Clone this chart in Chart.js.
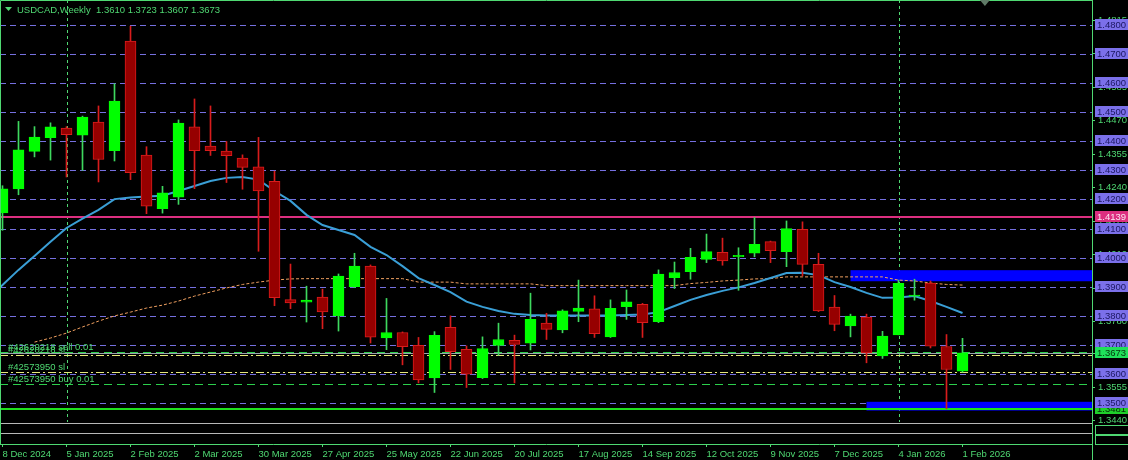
<!DOCTYPE html>
<html>
<head>
<meta charset="utf-8">
<script src="https://cdn.jsdelivr.net/npm/chart.js@4.4.1/dist/chart.umd.min.js"></script>
<style>
  html, body { margin: 0; padding: 0; background: #000; }
  canvas { display: block; }
</style>
</head>
<body>
<canvas id="myChart" width="1128" height="460"></canvas>
<script>
// Symbol / timeframe shown in the header.
const symbol = 'USDCAD';
const period = 'Weekly';

// Weekly candles, one per week starting 8 Dec 2024 (index 0) up to 1 Feb 2026 (index 60).
const opens  = [1.4154, 1.4236, 1.4365, 1.4412, 1.4445, 1.4421, 1.4466, 1.4367, 1.4744, 1.4352,
                1.4168, 1.4208, 1.4449, 1.4383, 1.4366, 1.4342, 1.4312, 1.4262, 1.3856, 1.3847,
                1.3865, 1.3800, 1.3900, 1.3971, 1.3724, 1.3743, 1.3699, 1.3587, 1.3761, 1.3685,
                1.3588, 1.3699, 1.3716, 1.3706, 1.3775, 1.3752, 1.3815, 1.3824, 1.3728, 1.3832,
                1.3840, 1.3780, 1.3931, 1.3952, 1.3994, 1.4018, 1.4003, 1.4015, 1.4055, 1.4021,
                1.4097, 1.3977, 1.3830, 1.3766, 1.3796, 1.3663, 1.3735, 1.3868, 1.3913, 1.3695,
                1.3610];
const highs  = [1.4247, 1.4468, 1.4450, 1.4463, 1.4450, 1.4486, 1.4521, 1.4597, 1.4795, 1.4381,
                1.4245, 1.4473, 1.4545, 1.4521, 1.4399, 1.4353, 1.4413, 1.4297, 1.3978, 1.3902,
                1.3892, 1.3944, 1.4015, 1.3975, 1.3860, 1.3745, 1.3726, 1.3746, 1.3800, 1.3697,
                1.3728, 1.3775, 1.3734, 1.3878, 1.3809, 1.3821, 1.3923, 1.3869, 1.3855, 1.3889,
                1.3843, 1.3958, 1.3985, 1.4032, 1.4081, 1.4067, 1.4034, 1.4138, 1.4057, 1.4126,
                1.4123, 1.4015, 1.3870, 1.3806, 1.3806, 1.3747, 1.3923, 1.3926, 1.3920, 1.3736,
                1.3723];
const lows   = [1.4094, 1.4216, 1.4346, 1.4335, 1.4277, 1.4300, 1.4260, 1.4332, 1.4268, 1.4151,
                1.4153, 1.4183, 1.4237, 1.4351, 1.4258, 1.4235, 1.4022, 1.3835, 1.3825, 1.3779,
                1.3756, 1.3748, 1.3897, 1.3707, 1.3684, 1.3632, 1.3570, 1.3537, 1.3616, 1.3554,
                1.3585, 1.3665, 1.3570, 1.3683, 1.3719, 1.3742, 1.3780, 1.3726, 1.3726, 1.3788,
                1.3726, 1.3777, 1.3894, 1.3926, 1.3983, 1.3974, 1.3888, 1.4003, 1.3983, 1.3969,
                1.3937, 1.3815, 1.3749, 1.3728, 1.3639, 1.3654, 1.3735, 1.3854, 1.3690, 1.3481,
                1.3607];
const closes = [1.4236, 1.4370, 1.4414, 1.4449, 1.4422, 1.4483, 1.4337, 1.4538, 1.4292, 1.4177,
                1.4223, 1.4462, 1.4367, 1.4367, 1.4350, 1.4310, 1.4229, 1.3863, 1.3845, 1.3854,
                1.3814, 1.3937, 1.3971, 1.3727, 1.3743, 1.3694, 1.3580, 1.3733, 1.3677, 1.3600,
                1.3688, 1.3719, 1.3702, 1.3788, 1.3754, 1.3817, 1.3827, 1.3739, 1.3826, 1.3848,
                1.3777, 1.3944, 1.3949, 1.4001, 1.4021, 1.3989, 1.4008, 1.4046, 1.4024, 1.4100,
                1.3977, 1.3817, 1.3771, 1.3799, 1.3673, 1.3731, 1.3912, 1.3870, 1.3696, 1.3616,
                1.3673];

// Fast moving average (blue), from index -1 to 60.
const maFastStart = -1;
const maFast = [1.3858, 1.3906, 1.3958, 1.4006, 1.4055, 1.4102, 1.4134, 1.4164, 1.4201, 1.4207,
                1.4210, 1.4213, 1.4229, 1.4246, 1.4263, 1.4274, 1.4277, 1.4268, 1.4229, 1.4195,
                1.4147, 1.4112, 1.4095, 1.4078, 1.4037, 1.4009, 1.3971, 1.3930, 1.3906, 1.3882,
                1.3849, 1.3831, 1.3817, 1.3807, 1.3803, 1.3801, 1.3801, 1.3801, 1.3801, 1.3801,
                1.3803, 1.3805, 1.3813, 1.3834, 1.3855, 1.3872, 1.3886, 1.3898, 1.3913, 1.3930,
                1.3947, 1.3948, 1.3940, 1.3916, 1.3899, 1.3879, 1.3862, 1.3863, 1.3868, 1.3851,
                1.3831, 1.3810];

// Slow moving average (orange dotted), from index 2 to 60.
const maSlowStart = 2;
const maSlow = [1.3710, 1.3724, 1.3741, 1.3762, 1.3782, 1.3800, 1.3813, 1.3827, 1.3837, 1.3851,
                1.3868, 1.3882, 1.3896, 1.3908, 1.3916, 1.3923, 1.3927, 1.3928, 1.3928, 1.3928,
                1.3928, 1.3928, 1.3928, 1.3928, 1.3916, 1.3916, 1.3916, 1.3910, 1.3910, 1.3910,
                1.3910, 1.3910, 1.3904, 1.3904, 1.3904, 1.3904, 1.3904, 1.3904, 1.3904, 1.3904,
                1.3904, 1.3911, 1.3915, 1.3920, 1.3923, 1.3927, 1.3928, 1.3934, 1.3934, 1.3934,
                1.3934, 1.3934, 1.3934, 1.3934, 1.3923, 1.3920, 1.3913, 1.3908, 1.3906];

// Time axis labels, one every 4 weeks.
const tickStep = 4;
const tickLabels = ['8 Dec 2024', '5 Jan 2025', '2 Feb 2025', '2 Mar 2025', '30 Mar 2025', '27 Apr 2025',
                    '25 May 2025', '22 Jun 2025', '20 Jul 2025', '17 Aug 2025', '14 Sep 2025',
                    '12 Oct 2025', '9 Nov 2025', '7 Dec 2025', '4 Jan 2026', '1 Feb 2026'];

// Price scale labels of the terminal (green) and the horizontal line levels (boxed).
const priceTicks = [1.4815, 1.4700, 1.4585, 1.4470, 1.4355, 1.4240, 1.4125, 1.4010, 1.3895,
                    1.3780, 1.3670, 1.3555, 1.3440];
const gridLevels = [1.48, 1.47, 1.46, 1.45, 1.44, 1.43, 1.42, 1.41, 1.40, 1.39, 1.38, 1.37, 1.36, 1.35];

// Year separators (week index).
const separators = [4, 56];

// Other chart objects.
const resistance = 1.4139;
const supportLine = 1.3481;
const zones = [
    { from: 53, top: 1.3957, bottom: 1.3919 },
    { from: 54, top: 1.3505, bottom: 1.3475 },
];
const tradeLines = [
    { label: '#42620218 sell 0.01', price: 1.3677, color: '#2ccf4c', dash: [8, 5] },
    { label: '#42620218 sl',        price: 1.3665, color: '#e6e87a', dash: [8, 3, 2, 3] },
    { label: '#42573950 sl',        price: 1.3606, color: '#e6e87a', dash: [8, 3, 2, 3] },
    { label: '#42573950 buy 0.01',  price: 1.3566, color: '#2ccf4c', dash: [8, 5] },
];
const shiftMarker = 61.4;

// Colours.
const FG = '#4fd872';
const GRID = '#7670e0';
const UP = '#00ff00';
const DOWN_FILL = '#960000';
const DOWN_LINE = '#d81c1c';
const FONT = '9.5px "Liberation Sans"';

Chart.defaults.font.family = '"Liberation Sans", Arial, sans-serif';
Chart.defaults.font.size = 9.5;
Chart.defaults.color = FG;

const idx = opens.map((_, i) => i);
const isUp = i => closes[i] >= opens[i];

// Draws grid levels, objects and the terminal decorations.
const terminal = {
    id: 'terminal',
    beforeDatasetsDraw(chart) {
        const { ctx, chartArea: a, scales: { x, y } } = chart;
        const hline = (py, color, width, dash) => {
            ctx.beginPath();
            ctx.lineWidth = width;
            ctx.strokeStyle = color;
            ctx.setLineDash(dash);
            ctx.moveTo(a.left, py);
            ctx.lineTo(a.right, py);
            ctx.stroke();
        };
        ctx.save();
        gridLevels.forEach(v => hline(Math.round(y.getPixelForValue(v)) + 0.5, GRID, 1, [6, 4]));

        // year separators
        ctx.strokeStyle = FG;
        ctx.setLineDash([3, 3]);
        ctx.lineWidth = 1;
        separators.forEach(s => {
            const px = Math.round(x.getPixelForValue(s)) + 0.5;
            ctx.beginPath();
            ctx.moveTo(px, a.top);
            ctx.lineTo(px, a.bottom);
            ctx.stroke();
        });

        // zones
        ctx.fillStyle = '#0000ff';
        zones.forEach(z => {
            const x0 = x.getPixelForValue(z.from);
            const y0 = y.getPixelForValue(z.top);
            ctx.fillRect(x0, y0, a.right - x0, y.getPixelForValue(z.bottom) - y0);
        });

        hline(Math.round(y.getPixelForValue(resistance)), '#dc2f80', 2, []);
        hline(Math.round(y.getPixelForValue(supportLine)), '#1ee01e', 2, []);

        // trade lines and the bid line
        ctx.font = FONT;
        ctx.textBaseline = 'alphabetic';
        tradeLines.forEach(t => {
            const py = Math.round(y.getPixelForValue(t.price)) + 0.5;
            hline(py, t.color, 1, t.dash);
            ctx.fillStyle = FG;
            ctx.fillText(t.label, 8, py - 3);
        });
        hline(Math.round(y.getPixelForValue(closes[closes.length - 1])) + 0.5, '#9aa4ae', 1, []);
        ctx.restore();
    },
    afterDraw(chart) {
        const { ctx, chartArea: a, scales: { x, y } } = chart;
        ctx.save();
        ctx.font = FONT;
        ctx.textBaseline = 'middle';

        // sub windows below the price chart
        ctx.fillStyle = '#000';
        ctx.fillRect(a.left + 1, 422, a.right - a.left - 1, a.bottom - 422);
        ctx.strokeStyle = '#b8b8b8';
        ctx.lineWidth = 1;
        [423.5, 433.5].forEach(py => {
            ctx.beginPath();
            ctx.moveTo(a.left, py);
            ctx.lineTo(a.right, py);
            ctx.stroke();
        });
        ctx.strokeStyle = FG;
        ctx.strokeRect(a.right + 3.5, 425.5, 33, 9);
        ctx.strokeRect(a.right + 3.5, 435.5, 33, 9);

        // frame
        ctx.beginPath();
        ctx.moveTo(a.left + 0.5, a.bottom);
        ctx.lineTo(a.left + 0.5, a.top + 0.5);
        ctx.lineTo(a.right + 0.5, a.top + 0.5);
        ctx.lineTo(a.right + 0.5, chart.height);
        ctx.stroke();

        // price boxes on the axis
        const box = (v, bg, fg) => {
            const py = Math.round(y.getPixelForValue(v));
            ctx.fillStyle = bg;
            ctx.fillRect(a.right + 3, py - 6, 33, 11);
            ctx.fillStyle = fg;
            ctx.fillText(v.toFixed(4), a.right + 5, py);
        };
        box(supportLine, '#1fcf2a', '#062a08');
        gridLevels.forEach(v => box(v, '#7b70ea', '#1a1660'));
        box(resistance, '#dc2f80', '#fbe6f0');
        box(closes[closes.length - 1], '#1fe05a', '#06300e');

        // header
        const last = closes.length - 1;
        ctx.fillStyle = FG;
        ctx.beginPath();
        ctx.moveTo(5, 7); ctx.lineTo(12, 7); ctx.lineTo(8.5, 11);
        ctx.closePath();
        ctx.fill();
        ctx.fillText(symbol + ',' + period + '  ' + [opens[last], highs[last], lows[last], closes[last]]
            .map(v => v.toFixed(4)).join(' '), 17, 10);

        // chart shift marker
        const sx = x.getPixelForValue(shiftMarker);
        ctx.fillStyle = '#5f7a66';
        ctx.beginPath();
        ctx.moveTo(sx - 5, 0); ctx.lineTo(sx + 5, 0); ctx.lineTo(sx, 6);
        ctx.closePath();
        ctx.fill();
        ctx.restore();
    }
};

const ctx = document.getElementById('myChart').getContext('2d');
const chart = new Chart(ctx, {
    type: 'bar',
    data: {
        datasets: [{
            label: 'Bodies',
            data: idx.map(i => ({ x: i, y: [opens[i], closes[i]] })),
            backgroundColor: idx.map(i => isUp(i) ? UP : DOWN_FILL),
            borderColor: idx.map(i => isUp(i) ? UP : DOWN_LINE),
            borderWidth: 1,
            borderSkipped: false,
            barThickness: 11,
            minBarLength: 1,
            grouped: false,
            order: 0,
        }, {
            label: 'Wicks',
            data: idx.map(i => ({ x: i, y: [lows[i], highs[i]] })),
            backgroundColor: idx.map(i => isUp(i) ? '#3ed85e' : DOWN_LINE),
            barThickness: 1,
            grouped: false,
            order: 1,
        }, {
            type: 'line',
            label: 'MA fast',
            data: maFast.map((v, k) => ({ x: maFastStart + k, y: v })),
            borderColor: '#3a9fd6',
            borderWidth: 2,
            pointRadius: 0,
            tension: 0,
            order: 2,
        }, {
            type: 'line',
            label: 'MA slow',
            data: maSlow.map((v, k) => ({ x: maSlowStart + k, y: v })),
            borderColor: '#f0a060',
            borderWidth: 1,
            borderDash: [3, 2],
            pointRadius: 0,
            tension: 0,
            order: 3,
        }]
    },
    options: {
        responsive: false,
        animation: false,
        devicePixelRatio: 1,
        layout: { padding: 0 },
        plugins: {
            legend: { display: false },
            tooltip: { enabled: false },
        },
        scales: {
            x: {
                type: 'linear',
                offset: false,
                min: -2.5 / 16,
                max: -2.5 / 16 + 1092 / 16,
                afterBuildTicks: scale => {
                    scale.ticks = tickLabels.map((_, k) => ({ value: k * tickStep }));
                },
                afterFit: scale => {
                    scale.height = 16;
                    scale.paddingLeft = 0;
                    scale.paddingRight = 0;
                },
                ticks: {
                    autoSkip: false,
                    maxRotation: 0,
                    align: 'start',
                    padding: 2,
                    color: FG,
                    callback: (v, k) => tickLabels[k],
                },
                grid: { drawOnChartArea: false, offset: false, tickLength: 3, tickColor: FG },
                border: { color: FG },
            },
            y: {
                type: 'linear',
                position: 'right',
                min: 1.336010,
                max: 1.488482,
                afterBuildTicks: scale => {
                    scale.ticks = priceTicks.map(v => ({ value: v }));
                },
                afterFit: scale => {
                    scale.width = 36;
                    scale.paddingTop = 0;
                    scale.paddingBottom = 0;
                },
                ticks: {
                    padding: 3,
                    color: FG,
                    callback: v => v.toFixed(4),
                },
                grid: { drawOnChartArea: false, tickLength: 3, tickColor: FG },
                border: { color: FG },
            }
        }
    },
    plugins: [terminal]
});
</script>
</body>
</html>
